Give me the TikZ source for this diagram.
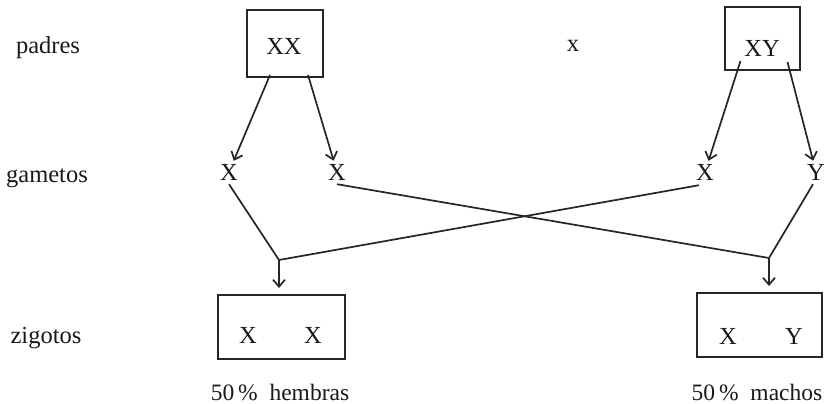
\documentclass[tikz,border=0pt]{standalone}
\usepackage{fontspec}
\setmainfont{Liberation Serif}
\usetikzlibrary{arrows.meta,calc}
\begin{document}
\begin{tikzpicture}[x=1pt,y=-1pt,
  every node/.style={font=\fontsize{24.5}{29}\selectfont, text=black!90},
  lbl/.style={anchor=base, inner sep=0pt},
  pct/.style={lbl, font=\fontsize{23.5}{28}\selectfont},
  gam/.style={anchor=base, inner sep=3pt},
  box/.style={draw=black!85, line width=2pt, inner sep=0pt},
  ln/.style={draw=black!85, line width=1.7pt},
  arr/.style={ln, -{Straight Barb[length=7pt,width=12pt,line width=1.7pt]}}]
\useasboundingbox (0,0) rectangle (827,404);
\fill[white] (0,0) rectangle (827,404);
% row labels
\node[lbl] (padres) at (48,53) {padres};
\node[lbl] (gametos) at (47,182) {gametos};
\node[lbl] (zigotos) at (46,343) {zigotos};
% parents
\node[box, minimum width=76pt, minimum height=67pt] (XX) at (285,43.5) {};
\node[lbl] (XXt) at (284,55) {XX};
\node[lbl] (cross) at (573,52) {x};
\node[box, minimum width=75pt, minimum height=63pt] (XY) at (762.5,38.5) {};
\node[lbl] (XYt) at (762,57) {XY};
% gametes
\node[gam] (g1) at (229,180) {X};
\node[gam] (g2) at (337,180) {X};
\node[gam] (g3) at (705,180) {X};
\node[gam] (g4) at (816,180) {Y};
% arrows parents -> gametes
\draw[arr] ([xshift=-15pt,yshift=3pt]XX.south) -- (g1);
\draw[arr] ([xshift=23pt,yshift=3pt]XX.south) -- (g2);
\draw[arr] ([xshift=-22pt,yshift=10pt]XY.south) -- (g3);
\draw[arr] ([xshift=25pt,yshift=9pt]XY.south) -- (g4);
% junctions
\coordinate (J1) at (279,260);
\coordinate (J2) at (769,258);
% zygotes
\node[box, minimum width=127pt, minimum height=64pt] (Z1) at (281.5,327) {};
\node[lbl] (Z1a) at (248,343) {X};
\node[lbl] (Z1b) at (313,343) {X};
\node[box, minimum width=125pt, minimum height=64pt] (Z2) at (759.5,325) {};
\node[lbl] (Z2a) at (728,344) {X};
\node[lbl] (Z2b) at (794,344) {Y};
\node[pct] (hembras) at (280,400) {50\,\%\ \ hembras};
\node[pct] (machos) at (757,400) {50\,\%\ \ machos};
% crossing lines
\draw[ln] ([yshift=-1pt]g1.south) -- (J1);
\draw[ln] ([xshift=-6pt,yshift=-2pt]g3.south) -- (J1);
\draw[ln] ([yshift=-1pt]g2.south) -- (J2);
\draw[ln] ([xshift=-3pt,yshift=-1pt]g4.south) -- (J2);
\draw[arr, shorten >=6pt] (J1) -- (J1 |- Z1.north);
\draw[arr, shorten >=6pt] (J2) -- (J2 |- Z2.north);
\end{tikzpicture}
\end{document}
